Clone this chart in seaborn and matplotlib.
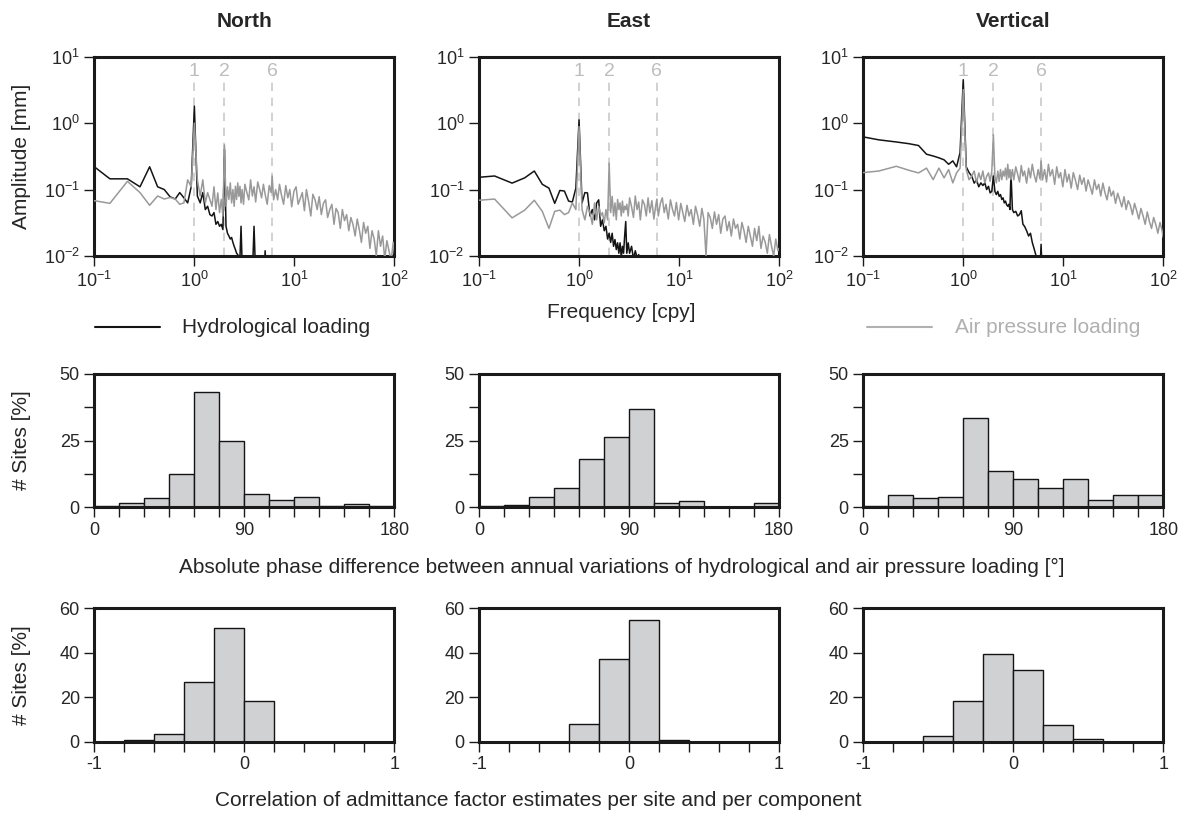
import numpy as np
import matplotlib
matplotlib.use('Agg')
import matplotlib.pyplot as plt
from matplotlib.lines import Line2D
from matplotlib.ticker import FixedLocator, NullLocator, MultipleLocator
import seaborn as sns

components = ['North', 'East', 'Vertical']
harmonics = [1, 2, 6]

# frequency grid [cpy]
freq_air = [0.1, 0.143, 0.214, 0.286, 0.357, 0.429, 0.5, 0.571, 0.643, 0.714, 0.786, 0.857, 0.929,
            1.0,
            1.071, 1.143, 1.214, 1.286, 1.357, 1.429, 1.5, 1.571, 1.643, 1.714, 1.786, 1.857, 1.929,
            2.0,
            2.071, 2.143, 2.214, 2.286, 2.357, 2.429, 2.5, 2.571, 2.643, 2.714, 2.786, 2.857, 2.929, 3.0,
            3.1, 3.2, 3.35, 3.5, 3.65, 3.8, 3.95, 4.1, 4.3, 4.5, 4.7, 4.9, 5.1, 5.35, 5.6, 5.85, 6.0, 6.2, 6.5,
            6.8, 7.1, 7.4, 7.8, 8.2, 8.6, 9.0, 9.4, 9.9,
            10.4, 10.9, 11.4, 12.0, 12.6, 13.2, 13.9, 14.6, 15.3, 16.1, 16.9, 17.7, 18.6, 19.5,
            20.5, 21.5, 22.6, 23.7, 24.9, 26.1, 27.4, 28.8, 30.2, 31.7, 33.3, 35.0, 36.7, 38.5,
            40.5, 42.5, 44.6, 46.8, 49.2, 51.6, 54.2, 56.9, 59.8,
            62.8, 65.9, 69.2, 72.7, 76.3, 80.1, 84.1, 88.3, 92.7, 97.4, 100.0]
freq_hydro = freq_air[:61]

# hydrological loading amplitude [mm]
hydro_north = [0.22, 0.145, 0.145, 0.11, 0.22, 0.11, 0.10, 0.078, 0.072, 0.09, 0.075, 0.063, 0.11,
               1.8,
               0.08, 0.063, 0.09, 0.05, 0.056, 0.042, 0.04, 0.045, 0.03, 0.033, 0.028, 0.03, 0.025,
               0.4,
               0.028, 0.022, 0.02, 0.018, 0.019, 0.016, 0.014, 0.0125, 0.011, 0.0105, 0.009, 0.0095, 0.028, 0.008,
               0.009, 0.007, 0.009, 0.006, 0.008, 0.005, 0.028, 0.005, 0.004, 0.005, 0.004, 0.003, 0.012,
               0.003, 0.003, 0.002, 0.002, 0.002, 0.002]
hydro_east = [0.153, 0.16, 0.125, 0.15, 0.19, 0.12, 0.105, 0.062, 0.097, 0.095, 0.067, 0.065, 0.105,
              1.12,
              0.063, 0.09, 0.089, 0.04, 0.05, 0.035, 0.063, 0.07, 0.028, 0.035, 0.024, 0.028, 0.018,
              0.022,
              0.016, 0.022, 0.014, 0.0177, 0.0125, 0.0158, 0.011, 0.0158, 0.0095, 0.014, 0.011, 0.02, 0.033, 0.011,
              0.0158, 0.011, 0.014, 0.009, 0.012, 0.0095, 0.0105, 0.006, 0.004, 0.004, 0.003, 0.003, 0.003,
              0.002, 0.002, 0.002, 0.002, 0.002, 0.002]
hydro_vertical = [0.62, 0.56, 0.52, 0.49, 0.46, 0.34, 0.32, 0.30, 0.28, 0.24, 0.27, 0.22, 0.36,
                  4.5,
                  0.22, 0.18, 0.16, 0.125, 0.14, 0.11, 0.126, 0.115, 0.126, 0.1, 0.112, 0.089, 0.094,
                  0.16,
                  0.094, 0.084, 0.094, 0.079, 0.084, 0.071, 0.075, 0.063, 0.067, 0.059, 0.056, 0.06, 0.05, 0.18,
                  0.05, 0.045, 0.047, 0.04, 0.042, 0.048, 0.03, 0.028, 0.024, 0.02, 0.022, 0.016, 0.013,
                  0.01, 0.009, 0.006, 0.015, 0.004, 0.003]

# air pressure loading amplitude [mm]
air_north = [0.068, 0.062, 0.133, 0.09, 0.058, 0.08, 0.072, 0.076, 0.072, 0.06, 0.063, 0.14, 0.11,
             1.0,
             0.14, 0.08, 0.14, 0.063, 0.09, 0.071, 0.056, 0.11, 0.05, 0.089, 0.045, 0.071, 0.04,
             0.47,
             0.056, 0.11, 0.071, 0.126, 0.063, 0.1, 0.056, 0.112, 0.071, 0.126, 0.079, 0.112, 0.063, 0.1,
             0.06, 0.12, 0.09, 0.07, 0.14, 0.08, 0.11, 0.065, 0.13, 0.1, 0.075, 0.12, 0.085, 0.06,
             0.115, 0.09, 0.16, 0.07, 0.1,
             0.07, 0.12, 0.085, 0.06, 0.115, 0.075, 0.1, 0.055, 0.095,
             0.11, 0.06, 0.072, 0.09, 0.048, 0.1, 0.065, 0.04, 0.085, 0.07, 0.05, 0.078, 0.042, 0.062,
             0.07, 0.038, 0.05, 0.06, 0.03, 0.052, 0.045, 0.026, 0.05, 0.034, 0.042, 0.024, 0.038, 0.03,
             0.02, 0.036, 0.025, 0.016, 0.032, 0.022, 0.028, 0.013, 0.024,
             0.018, 0.01, 0.024, 0.014, 0.02, 0.009, 0.017, 0.012, 0.0085, 0.016, 0.011]
air_east = [0.069, 0.072, 0.0375, 0.049, 0.069, 0.047, 0.026, 0.047, 0.049, 0.042, 0.045, 0.063, 0.05,
            0.89,
            0.05, 0.035, 0.056, 0.045, 0.03, 0.063, 0.035, 0.056, 0.04, 0.045, 0.0315, 0.05, 0.035,
            0.25,
            0.045, 0.079, 0.04, 0.063, 0.035, 0.071, 0.05, 0.063, 0.04, 0.067, 0.045, 0.056, 0.05, 0.06,
            0.04, 0.075, 0.055, 0.038, 0.08, 0.05, 0.065, 0.035, 0.07, 0.06, 0.04, 0.075, 0.045, 0.068,
            0.036, 0.058, 0.072, 0.04, 0.062,
            0.075, 0.045, 0.06, 0.036, 0.07, 0.05, 0.04, 0.064, 0.035,
            0.062, 0.045, 0.033, 0.058, 0.04, 0.05, 0.03, 0.056, 0.042, 0.028, 0.052, 0.036, 0.01, 0.045,
            0.038, 0.026, 0.046, 0.03, 0.042, 0.022, 0.036, 0.04, 0.024, 0.033, 0.02, 0.036, 0.026, 0.03,
            0.018, 0.032, 0.024, 0.016, 0.028, 0.02, 0.014, 0.026, 0.017,
            0.028, 0.013, 0.02, 0.016, 0.011, 0.021, 0.014, 0.01, 0.018, 0.012, 0.013]
air_vertical = [0.18, 0.19, 0.224, 0.195, 0.178, 0.21, 0.141, 0.21, 0.15, 0.2, 0.126, 0.178, 0.21,
                3.2,
                0.2, 0.141, 0.159, 0.19, 0.126, 0.178, 0.141, 0.19, 0.126, 0.159, 0.178, 0.133, 0.19,
                0.67,
                0.159, 0.126, 0.19, 0.133, 0.2, 0.141, 0.19, 0.159, 0.21, 0.141, 0.24, 0.15, 0.2, 0.141,
                0.2, 0.14, 0.22, 0.17, 0.13, 0.23, 0.16, 0.19, 0.125, 0.21, 0.15, 0.24, 0.17, 0.13,
                0.2, 0.145, 0.27, 0.14, 0.2,
                0.13, 0.24, 0.16, 0.2, 0.12, 0.22, 0.15, 0.18, 0.11,
                0.2, 0.13, 0.17, 0.105, 0.18, 0.14, 0.1, 0.165, 0.12, 0.15, 0.095, 0.14, 0.11, 0.085,
                0.14, 0.1, 0.12, 0.08, 0.125, 0.09, 0.07, 0.11, 0.08, 0.095, 0.062, 0.088, 0.07, 0.055,
                0.078, 0.05, 0.068, 0.058, 0.042, 0.062, 0.048, 0.036, 0.052,
                0.04, 0.03, 0.046, 0.033, 0.026, 0.038, 0.03, 0.022, 0.032, 0.024, 0.019]

# phase difference histograms [% of sites]
phase_edges = [0, 15, 30, 45, 60, 75, 90, 105, 120, 135, 150, 165, 180]
phase_north = [0.6, 1.6, 3.3, 12.3, 43.3, 24.8, 5.0, 2.6, 4.0, 0.6, 1.1, 0.6]
phase_east = [0.5, 1.0, 4.0, 7.4, 18.0, 26.5, 37.0, 1.6, 2.2, 0.2, 0.2, 1.6]
phase_vertical = [0.5, 4.5, 3.4, 4.0, 33.6, 13.5, 10.5, 7.4, 10.5, 2.6, 4.5, 4.5]

# admittance correlation histograms [% of sites]
corr_edges = [-1.0, -0.8, -0.6, -0.4, -0.2, 0.0, 0.2, 0.4, 0.6, 0.8, 1.0]
corr_north = [0, 0.75, 3.4, 27.0, 51.2, 18.2, 0, 0, 0, 0]
corr_east = [0, 0, 0, 8.0, 37.2, 54.8, 0.7, 0, 0, 0]
corr_vertical = [0, 0, 2.4, 18.2, 39.6, 32.3, 7.4, 1.2, 0, 0]

hydro = [hydro_north, hydro_east, hydro_vertical]
air = [air_north, air_east, air_vertical]
phase = [phase_north, phase_east, phase_vertical]
corr = [corr_north, corr_east, corr_vertical]

sns.set_style('ticks')
plt.rcParams['font.family'] = ['Liberation Sans', 'DejaVu Sans']
plt.rcParams['mathtext.fontset'] = 'custom'
plt.rcParams['mathtext.rm'] = 'Liberation Sans'
plt.rcParams['mathtext.it'] = 'Liberation Sans:italic'
plt.rcParams['mathtext.bf'] = 'Liberation Sans:bold'
plt.rcParams['axes.unicode_minus'] = False

BLACK = '#141414'
GREY = '#999999'
BAR = '#d0d1d3'
DASH = '#c9c9c9'

fig = plt.figure(figsize=(11.84, 8.14), dpi=100)
lefts = [0.0797, 0.4046, 0.7291]
width = 0.2534


def style(ax):
    for s in ax.spines.values():
        s.set_linewidth(2.2)
        s.set_color('#1a1a1a')
    ax.tick_params(which='both', direction='out', length=7, width=1, labelsize=13, color='#1a1a1a')
    ax.set_xlabel('')
    ax.set_ylabel('')


def mids(edges):
    e = np.array(edges)
    return (e[:-1] + e[1:]) / 2


for i, comp in enumerate(components):
    # spectra
    ax = fig.add_axes([lefts[i], 0.6855, width, 0.2449])
    ax.set_xscale('log')
    ax.set_yscale('log')
    for h in harmonics:
        ax.axvline(h, ymax=0.88, color=DASH, ls=(0, (5, 4)), lw=1.2, zorder=1)
        ax.text(h, 0.925, str(h), color='#bdbdbd', ha='center', va='center', fontsize=14,
                transform=ax.get_xaxis_transform())
    sns.lineplot(x=freq_hydro, y=hydro[i], ax=ax, color=BLACK, lw=1.1, estimator=None, sort=False, zorder=2)
    sns.lineplot(x=freq_air, y=air[i], ax=ax, color=GREY, lw=1.1, estimator=None, sort=False, zorder=3)
    ax.set_xlim(0.1, 100)
    ax.set_ylim(0.01, 10)
    ax.xaxis.set_major_locator(FixedLocator([0.1, 1, 10, 100]))
    ax.yaxis.set_major_locator(FixedLocator([0.01, 0.1, 1, 10]))
    ax.xaxis.set_minor_locator(NullLocator())
    ax.yaxis.set_minor_locator(NullLocator())
    style(ax)
    fig.text(lefts[i] + width / 2, 0.973, comp, ha='center', va='center', fontsize=15, fontweight='bold')

    # phase histograms
    ax = fig.add_axes([lefts[i], 0.3768, width, 0.1638])
    sns.histplot(x=mids(phase_edges), weights=phase[i], bins=phase_edges, ax=ax,
                 color=BAR, edgecolor=BLACK, linewidth=1, alpha=1)
    ax.set_xlim(0, 180)
    ax.set_ylim(0, 50)
    ax.set_xticks([0, 90, 180])
    ax.xaxis.set_minor_locator(MultipleLocator(15))
    ax.set_yticks([0, 25, 50])
    ax.yaxis.set_minor_locator(FixedLocator([12.5, 37.5]))
    style(ax)

    # correlation histograms
    ax = fig.add_axes([lefts[i], 0.0888, width, 0.1638])
    sns.histplot(x=mids(corr_edges), weights=corr[i], bins=corr_edges, ax=ax,
                 color=BAR, edgecolor=BLACK, linewidth=1, alpha=1)
    ax.set_xlim(-1, 1)
    ax.set_ylim(0, 60)
    ax.set_xticks([-1, 0, 1])
    ax.set_xticklabels(['-1', '0', '1'])
    ax.xaxis.set_minor_locator(MultipleLocator(0.2))
    ax.set_yticks([0, 20, 40, 60])
    ax.yaxis.set_minor_locator(NullLocator())
    style(ax)

# labels
fig.text(22 / 1184, 0.808, 'Amplitude [mm]', rotation=90, ha='center', va='center', fontsize=15)
fig.text(22 / 1184, 0.4595, '# Sites [%]', rotation=90, ha='center', va='center', fontsize=15)
fig.text(22 / 1184, 0.1708, '# Sites [%]', rotation=90, ha='center', va='center', fontsize=15)
fig.text(621 / 1184, 1 - 312 / 814, 'Frequency [cpy]', ha='center', va='center', fontsize=15)
fig.text(622 / 1184, 1 - 567 / 814,
         'Absolute phase difference between annual variations of hydrological and air pressure loading [°]',
         ha='center', va='center', fontsize=15)
fig.text(538 / 1184, 1 - 800 / 814,
         'Correlation of admittance factor estimates per site and per component',
         ha='center', va='center', fontsize=15)

# legend
ly = 1 - 327 / 814
fig.add_artist(Line2D([95 / 1184, 160 / 1184], [ly, ly], transform=fig.transFigure, color=BLACK, lw=1.5))
fig.text(182 / 1184, ly, 'Hydrological loading', ha='left', va='center', fontsize=15)
fig.add_artist(Line2D([867 / 1184, 932 / 1184], [ly, ly], transform=fig.transFigure, color='#b0b0b0', lw=1.5))
fig.text(955 / 1184, ly, 'Air pressure loading', ha='left', va='center', fontsize=15, color='#b0b0b0')

fig.savefig('out.png', dpi=100)
